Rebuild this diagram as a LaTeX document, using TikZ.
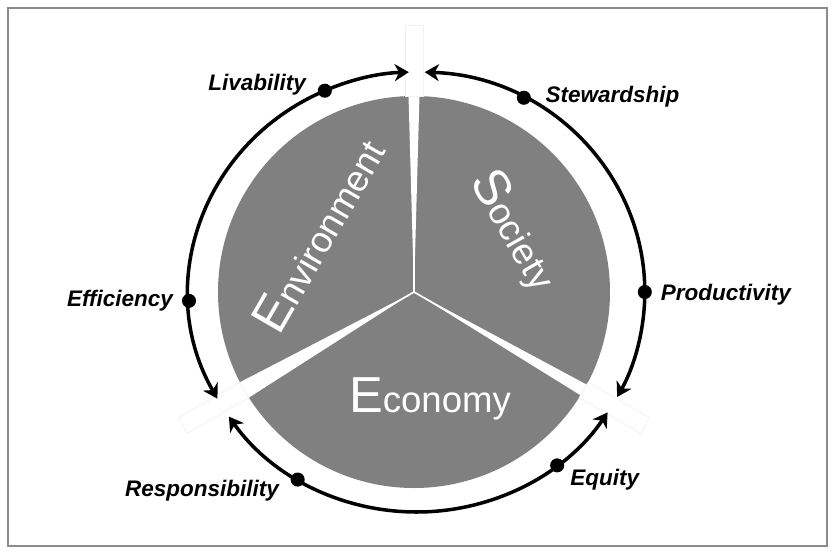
\documentclass[tikz,border=0pt]{standalone}
\usepackage{fontspec}
\setmainfont{Liberation Sans}
\usetikzlibrary{arrows.meta,positioning}
\definecolor{piegray}{RGB}{128,128,128}
\definecolor{framegray}{RGB}{140,140,140}
\tikzset{
  % small black dot on the ring
  ringdot/.style={circle, fill=black, inner sep=0pt, minimum size=10pt},
  % italic labels round the ring
  ringlab/.style={font=\fontsize{16}{18}\selectfont\bfseries\itshape, inner sep=0pt},
  % big white sector names
  pillar/.style={text=white, inner sep=0pt, anchor=base},
  % double-headed arc
  ringarr/.style={{Stealth[length=10pt,width=12pt,inset=3pt]}-{Stealth[length=10pt,width=12pt,inset=3pt]}, line width=2.5pt},
  % faint white bar between sectors
  spoke/.style={fill=white, draw=black!5, line width=0.6pt},
}
\newcommand{\bigfirst}[2]{{\fontsize{36}{36}\selectfont #1}{\fontsize{26}{26}\selectfont #2}}

\begin{document}
\begin{tikzpicture}[x=0.025cm, y=0.025cm]
    \useasboundingbox (-414,292) rectangle (421,-262);
    \draw[framegray, line width=1.2pt] (-406,284) rectangle (413,-254);

    % Pie and the gaps between the three sectors
    \fill[piegray] (0,0) circle[radius=196];
    \foreach \a/\h in {90/1.6, 210/2.6, 330/1.8} {
        \fill[white] (0,0) -- (\a-\h:205) -- (\a+\h:205) -- cycle;
        \draw[white, line width=1.2pt] (0,0) -- (\a:200);
        \draw[spoke, rotate=\a] (196,-9) rectangle (267,9);
    }

    % Sector names
    \node[pillar] (eco) at (16,-120) {\bigfirst{E}{conomy}};
    \node[pillar, rotate=60] (env) at (-81,48) {\bigfirst{E}{nvironment}};
    \node[pillar, rotate=-60] (soc) at (88,55) {\bigfirst{S}{ociety}};

    % Ring arcs
    \begin{scope}[xshift=2]
    \draw[ringarr] (209:228 and 220) arc[start angle=209, end angle=92, x radius=228, y radius=220];
    \draw[ringarr] (88:228 and 220) arc[start angle=88, end angle=-28.5, x radius=228, y radius=220];
    \draw[ringarr] (214.5:228 and 220) arc[start angle=214.5, end angle=326.8, x radius=228, y radius=220];

    % Dots and their labels
    \node[ringdot] (liv) at (113.8:228 and 220) {};
    \node[ringdot] (stw) at (62:228 and 220) {};
    \node[ringdot] (eff) at (182.3:228 and 220) {};
    \node[ringdot] (pro) at (0:228 and 220) {};
    \node[ringdot] (res) at (238.5:228 and 220) {};
    \node[ringdot] (equ) at (308:228 and 220) {};
    \end{scope}

    \node[ringlab, left=8pt of liv, yshift=4pt] {Livability};
    \node[ringlab, right=10pt of stw, yshift=1pt] {Stewardship};
    \node[ringlab, left=6pt of eff] {Efficiency};
    \node[ringlab, right=6pt of pro, yshift=-2pt] {Productivity};
    \node[ringlab, left=8pt of res, yshift=-8pt] {Responsibility};
    \node[ringlab, right=4pt of equ, yshift=-10pt] {Equity};
\end{tikzpicture}
\end{document}
